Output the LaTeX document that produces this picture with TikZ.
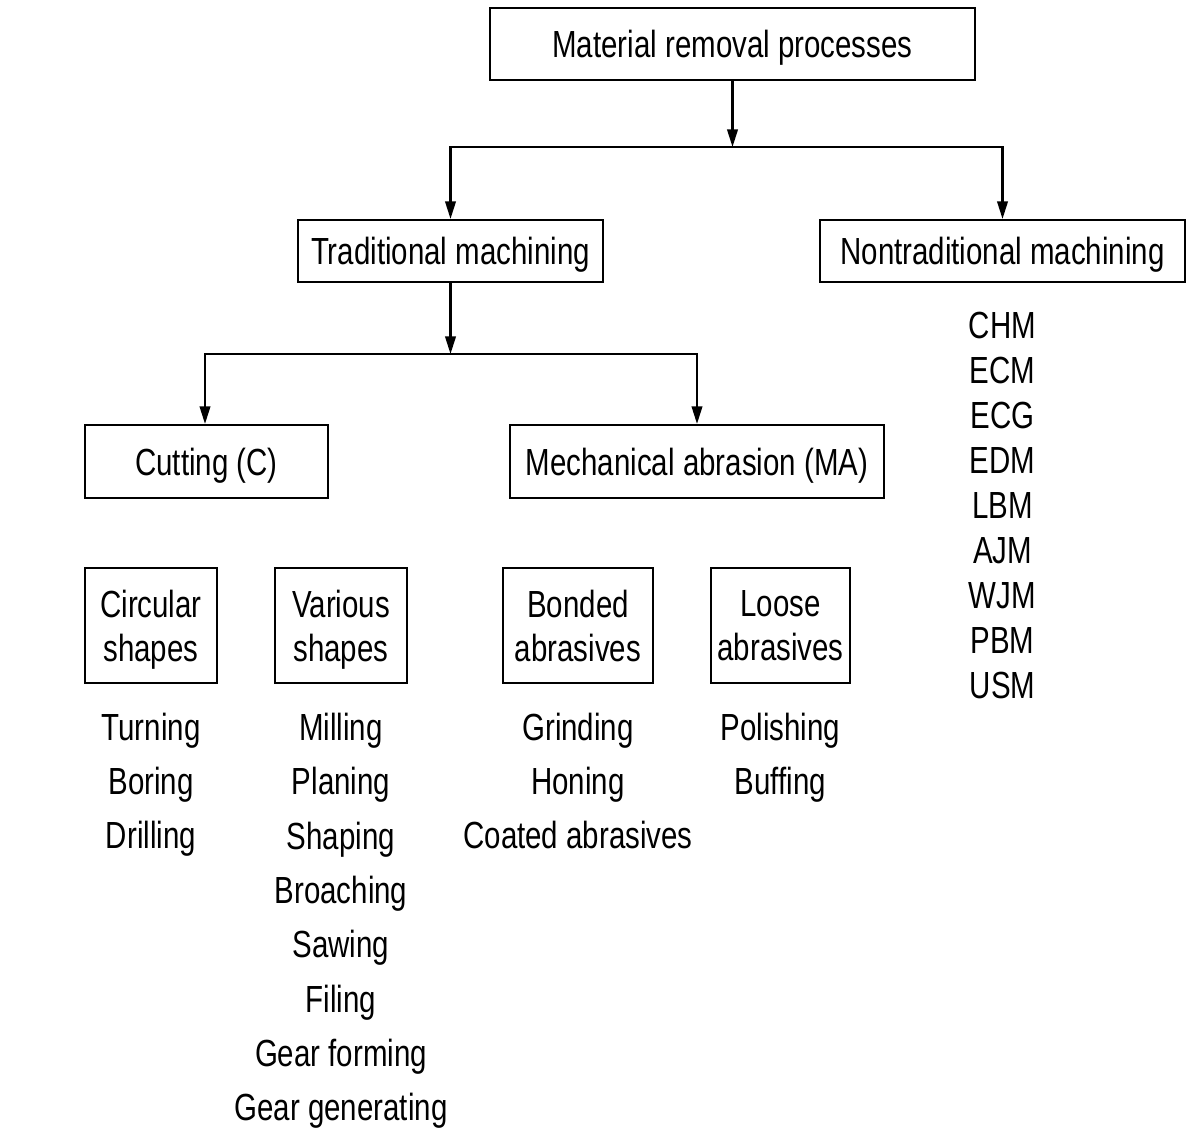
\documentclass[tikz,border=0pt]{standalone}
\usepackage{fontspec}
\setmainfont{Liberation Sans}[FakeStretch=0.78]
\usetikzlibrary{arrows.meta,positioning}

\tikzset{
  box/.style={draw,line width=1.2pt,align=center,inner sep=0pt,text depth=0pt},
  item/.style={inner sep=0pt,text height=1.5ex,text depth=.3ex},
  link/.style={line width=1.2pt,-{Triangle[length=10pt,width=6pt]}},
}

\begin{document}
\begin{tikzpicture}[x=0.02cm,y=-0.02cm,font=\fontsize{21.5}{25}\selectfont]
\fill[white] (0,0) rectangle (1193,1138);
% boxes
\node[box,minimum width=9.7cm,minimum height=1.44cm] (mrp) at (732.5,44) {Material removal processes};
\node[box,minimum width=6.1cm,minimum height=1.24cm] (trad) at (450.5,251) {Traditional machining};
\node[box,minimum width=7.3cm,minimum height=1.24cm] (ntrad) at (1002.5,251) {Nontraditional machining};
\node[box,minimum width=4.86cm,minimum height=1.46cm] (cut) at (206.5,461.5) {Cutting (C)};
\node[box,minimum width=7.48cm,minimum height=1.46cm] (ma) at (697,461.5) {Mechanical abrasion (MA)};
\node[box,minimum width=2.64cm,minimum height=2.3cm] (circ) at (151,625.5) {Circular\\shapes};
\node[box,minimum width=2.64cm,minimum height=2.3cm] (var) at (341,625.5) {Various\\shapes};
\node[box,minimum width=3cm,minimum height=2.3cm] (bond) at (578,625.5) {Bonded\\abrasives};
\node[box,minimum width=2.78cm,minimum height=2.3cm] (loose) at (780.5,625.5) {Loose\\abrasives};
% connectors
\coordinate (j1) at (732.5,147);
\coordinate (j2) at (450.5,354);
\draw[link] (mrp) -- (j1);
\draw[link] (j1) -| (trad.north);
\draw[link] (j1) -| (ntrad.north);
\draw[link] (trad) -- (j2);
\draw[link] (j2) -| ([xshift=-0.03cm]cut.north);
\draw[link] (j2) -| (ma.north);
% process lists
\foreach \t [count=\i] in {Turning,Boring,Drilling}
  \node[item] (circ\i) at (151,{735+54*(\i-1)}) {\t};
\foreach \t [count=\i] in {Milling,Planing,Shaping,Broaching,Sawing,Filing,Gear forming,Gear generating}
  \node[item] (var\i) at (341,{735+54.3*(\i-1)}) {\t};
\foreach \t [count=\i] in {Grinding,Honing,Coated abrasives}
  \node[item] (bond\i) at (578,{735+54*(\i-1)}) {\t};
\foreach \t [count=\i] in {Polishing,Buffing}
  \node[item] (loose\i) at (780.5,{735+54*(\i-1)}) {\t};
\foreach \t [count=\i] in {CHM,ECM,ECG,EDM,LBM,AJM,WJM,PBM,USM}
  \node[item] (ntrad\i) at (1002.5,{333+45*(\i-1)}) {\t};
\end{tikzpicture}
\end{document}
